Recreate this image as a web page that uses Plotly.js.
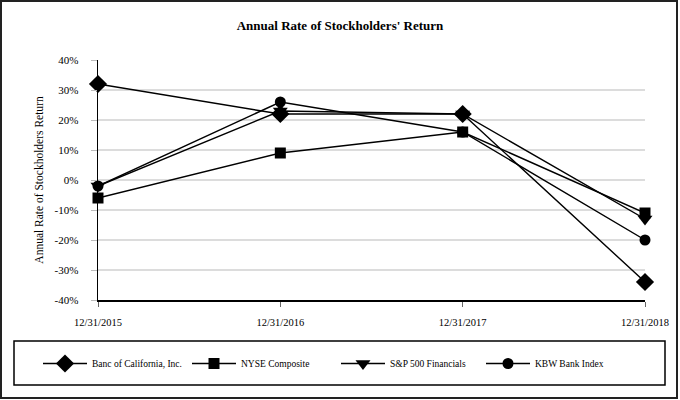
<!DOCTYPE html>
<html>
<head>
<meta charset="utf-8">
<script src="https://cdn.plot.ly/plotly-3.0.1.min.js"></script>
<style>
html,body{margin:0;padding:0;background:#fff;}
#chart{width:680px;height:400px;}
</style>
</head>
<body>
<div id="chart"></div>
<script>
const categories = ["12/31/2015", "12/31/2016", "12/31/2017", "12/31/2018"];
const seriesNames = ["Banc of California, Inc.", "NYSE Composite", "S&P 500 Financials", "KBW Bank Index"];
const bancValues = [32, 22, 22, -34];
const nyseValues = [-6, 9, 16, -11];
const spValues = [-2, 23, 22, -13];
const kbwValues = [-2, 26, 16, -20];
const yTickValues = [-40, -30, -20, -10, 0, 10, 20, 30, 40];
const yTickLabels = yTickValues.map(v => v + "%");

const SERIF = "Liberation Serif";
const symbols = ["diamond", "square", "triangle-down", "circle"];
const sizes = [14, 11, 13, 11];
const legendIds = ["legend", "legend2", "legend3", "legend4"];
const allValues = [bancValues, nyseValues, spValues, kbwValues];

const traces = allValues.map((vals, i) => ({
  type: "scatter",
  mode: "lines+markers",
  name: seriesNames[i],
  legend: legendIds[i],
  x: categories,
  y: vals,
  line: {color: "#000", width: 1.4},
  marker: {symbol: symbols[i], size: sizes[i], color: "#000"},
  cliponaxis: false
}));

const W = 547, H = 240, L = 98, T = 60;
const px = x => (x - L) / W;
const py = y => (T + H - y) / H;

function legendAt(xPix) {
  return {
    orientation: "h",
    x: px(xPix), xanchor: "left",
    y: py(363.5), yanchor: "middle",
    itemwidth: 44,
    font: {family: SERIF, size: 9.5, color: "#000"},
    bgcolor: "rgba(0,0,0,0)"
  };
}

const layout = {
  width: 680, height: 400,
  margin: {l: 98, r: 35, t: 60, b: 100},
  paper_bgcolor: "#fff", plot_bgcolor: "#fff",
  font: {family: SERIF, color: "#000", size: 11},
  title: {
    text: "<b>Annual Rate of Stockholders' Return</b>",
    font: {family: SERIF, size: 13, color: "#000"},
    x: 0.5, xref: "container", y: 1 - 25/400, yanchor: "middle"
  },
  xaxis: {
    type: "category",
    range: [0, 3],
    showgrid: false,
    showline: true, linecolor: "#000", linewidth: 1.5,
    ticks: "outside", ticklen: 5, tickcolor: "#666",
    ticklabelstandoff: 7,
    tickfont: {family: SERIF, size: 10.5, color: "#000"},
    zeroline: false
  },
  yaxis: {
    range: [-40, 40],
    tickvals: yTickValues,
    ticktext: yTickLabels,
    showgrid: true, gridcolor: "#dcdcdc", gridwidth: 1.5,
    showline: true, linecolor: "#000", linewidth: 1.5,
    zeroline: false,
    ticks: "outside", ticklen: 6, tickcolor: "#bbb",
    ticklabelstandoff: 10,
    tickfont: {family: SERIF, size: 11, color: "#000"},
    title: {text: "Annual Rate of Stockholders Return", font: {family: SERIF, size: 11.5, color: "#000"}, standoff: 8}
  },
  showlegend: true,
  legend: legendAt(38),
  legend2: legendAt(187),
  legend3: legendAt(336),
  legend4: legendAt(481),
  shapes: [
    {type: "rect", xref: "paper", yref: "paper",
     x0: px(14), x1: px(665), y0: py(385), y1: py(341),
     line: {color: "#000", width: 1.5}, layer: "above"},
    {type: "rect", xref: "paper", yref: "paper",
     x0: px(1), x1: px(677), y0: py(398), y1: py(1),
     line: {color: "#222", width: 2}, layer: "above"}
  ]
};

Plotly.newPlot("chart", traces, layout, {displayModeBar: false, staticPlot: true});
</script>
</body>
</html>
